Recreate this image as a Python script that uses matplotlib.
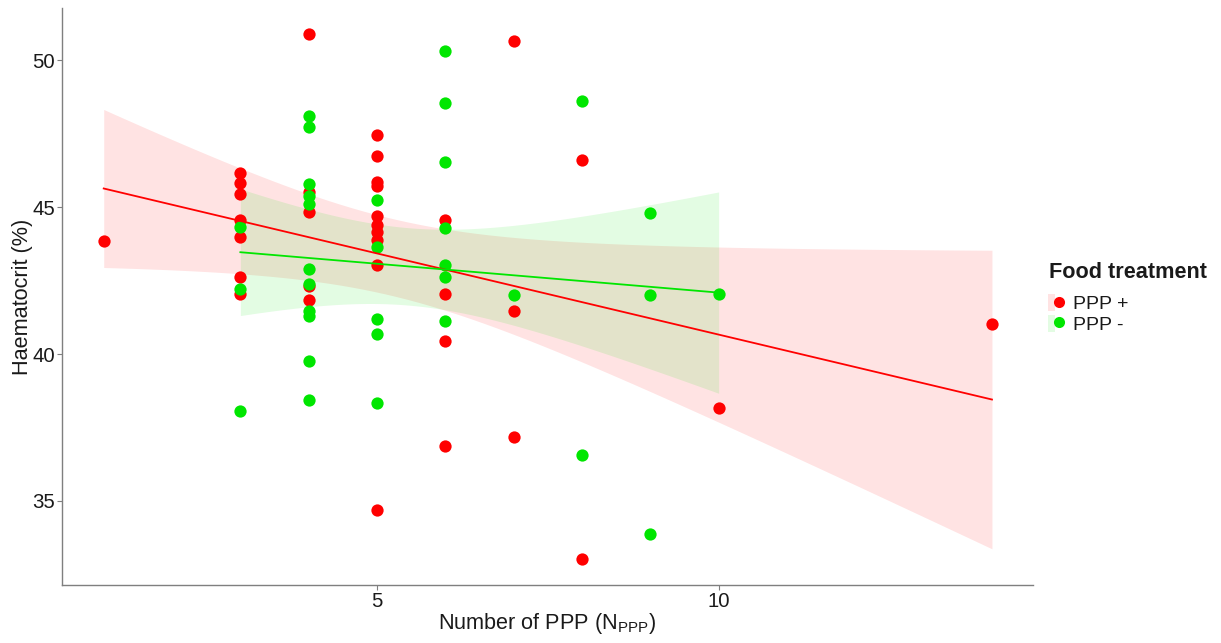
import numpy as np
import matplotlib
matplotlib.use('Agg')
import matplotlib.pyplot as plt
from matplotlib.lines import Line2D
from matplotlib.patches import Patch
from matplotlib.legend_handler import HandlerTuple

plt.rcParams['font.family'] = ['Liberation Sans', 'DejaVu Sans']
plt.rcParams['mathtext.fontset'] = 'custom'
plt.rcParams['mathtext.rm'] = 'Liberation Sans'

# PPP + group
x_plus = [1,
          3, 3, 3, 3, 3, 3, 3,
          4, 4, 4, 4, 4,
          5, 5, 5, 5, 5, 5, 5, 5, 5, 5,
          6, 6, 6, 6,
          7, 7, 7,
          8, 8,
          10,
          14]
y_plus = [43.84,
          46.16, 45.82, 45.45, 44.58, 44.00, 42.62, 42.04,
          50.90, 45.50, 44.85, 42.30, 41.85,
          47.46, 46.74, 45.87, 45.73, 44.70, 44.39, 44.14, 43.88, 43.04, 34.68,
          44.57, 42.04, 40.44, 36.87,
          50.64, 41.47, 37.19,
          46.60, 33.04,
          38.17,
          41.04]

# PPP - group
x_minus = [3, 3, 3,
           4, 4, 4, 4, 4, 4, 4, 4, 4, 4, 4,
           5, 5, 5, 5, 5,
           6, 6, 6, 6, 6, 6, 6,
           7,
           8, 8,
           9, 9, 9,
           10]
y_minus = [44.33, 42.23, 38.06,
           48.12, 47.73, 45.78, 45.38, 45.10, 42.91, 42.37, 41.46, 41.29, 39.75, 38.42,
           45.26, 43.66, 41.20, 40.69, 38.34,
           50.32, 48.54, 46.54, 44.28, 43.03, 42.64, 41.11,
           42.02,
           48.63, 36.56,
           44.81, 42.02, 33.88,
           42.04]

groups = ['PPP +', 'PPP -']
red = '#FF0000'
green = '#00E600'


def lm_band(x, y, t=2.04):
    # linear fit with 95% confidence band, like geom_smooth(method = "lm")
    x = np.asarray(x, float)
    y = np.asarray(y, float)
    n = len(x)
    b, a = np.polyfit(x, y, 1)
    resid = y - (a + b * x)
    s = np.sqrt(np.sum(resid ** 2) / (n - 2))
    xs = np.linspace(x.min(), x.max(), 80)
    fit = a + b * xs
    se = s * np.sqrt(1 / n + (xs - x.mean()) ** 2 / np.sum((x - x.mean()) ** 2))
    return xs, fit, fit - t * se, fit + t * se


fig = plt.figure(figsize=(12.21, 6.43), dpi=100)
ax = fig.add_axes([0.0508, 0.0902, 0.7952, 0.8974])

for xv, yv, col in [(x_plus, y_plus, red), (x_minus, y_minus, green)]:
    ax.scatter(xv, yv, s=78, color=col, zorder=3, linewidths=0)

for xv, yv, col in [(x_plus, y_plus, red), (x_minus, y_minus, green)]:
    xs, fit, lo, hi = lm_band(xv, yv)
    ax.fill_between(xs, lo, hi, color=col, alpha=0.11, linewidth=0, zorder=1)
    ax.plot(xs, fit, color=col, lw=1.3, zorder=4)

ax.set_xlim(0.39, 14.6)
ax.set_ylim(32.14, 51.78)
ax.set_xticks([5, 10])
ax.set_yticks([35, 40, 45, 50])

for s in ['top', 'right']:
    ax.spines[s].set_visible(False)
for s in ['left', 'bottom']:
    ax.spines[s].set_color('#7f7f7f')
    ax.spines[s].set_linewidth(1.0)
ax.tick_params(colors='#7f7f7f', labelcolor='#1a1a1a', labelsize=14.7,
               length=3.5, width=0.8, pad=1.5)

ax.set_xlabel(r'Number of PPP (N$_{\mathrm{PPP}}$)', fontsize=15.6, color='#1a1a1a', labelpad=-0.3)
ax.set_ylabel('Haematocrit (%)', fontsize=15.6, color='#1a1a1a', labelpad=-0.8)

fig.text(1049 / 1221, 1 - 273 / 643, 'Food treatment', fontsize=15.6,
         fontweight='bold', color='#1a1a1a', ha='left', va='center')

handles = [
    (Patch(facecolor=red, alpha=0.11, linewidth=0),
     Line2D([], [], marker='o', color=red, linestyle='none', markersize=8, markeredgewidth=0)),
    (Patch(facecolor=green, alpha=0.11, linewidth=0),
     Line2D([], [], marker='o', color=green, linestyle='none', markersize=8, markeredgewidth=0)),
]
leg = fig.legend(handles, groups,
                 handler_map={tuple: HandlerTuple(ndivide=None, pad=0)},
                 loc='upper left', bbox_to_anchor=(1048 / 1221, 1 - 294 / 643),
                 frameon=False, fontsize=14,
                 handlelength=0.72, handleheight=0.98, handletextpad=0.57,
                 labelspacing=0.08, borderaxespad=0, borderpad=0)
for t in leg.get_texts():
    t.set_color('#1a1a1a')

fig.savefig('out.png', dpi=100)
